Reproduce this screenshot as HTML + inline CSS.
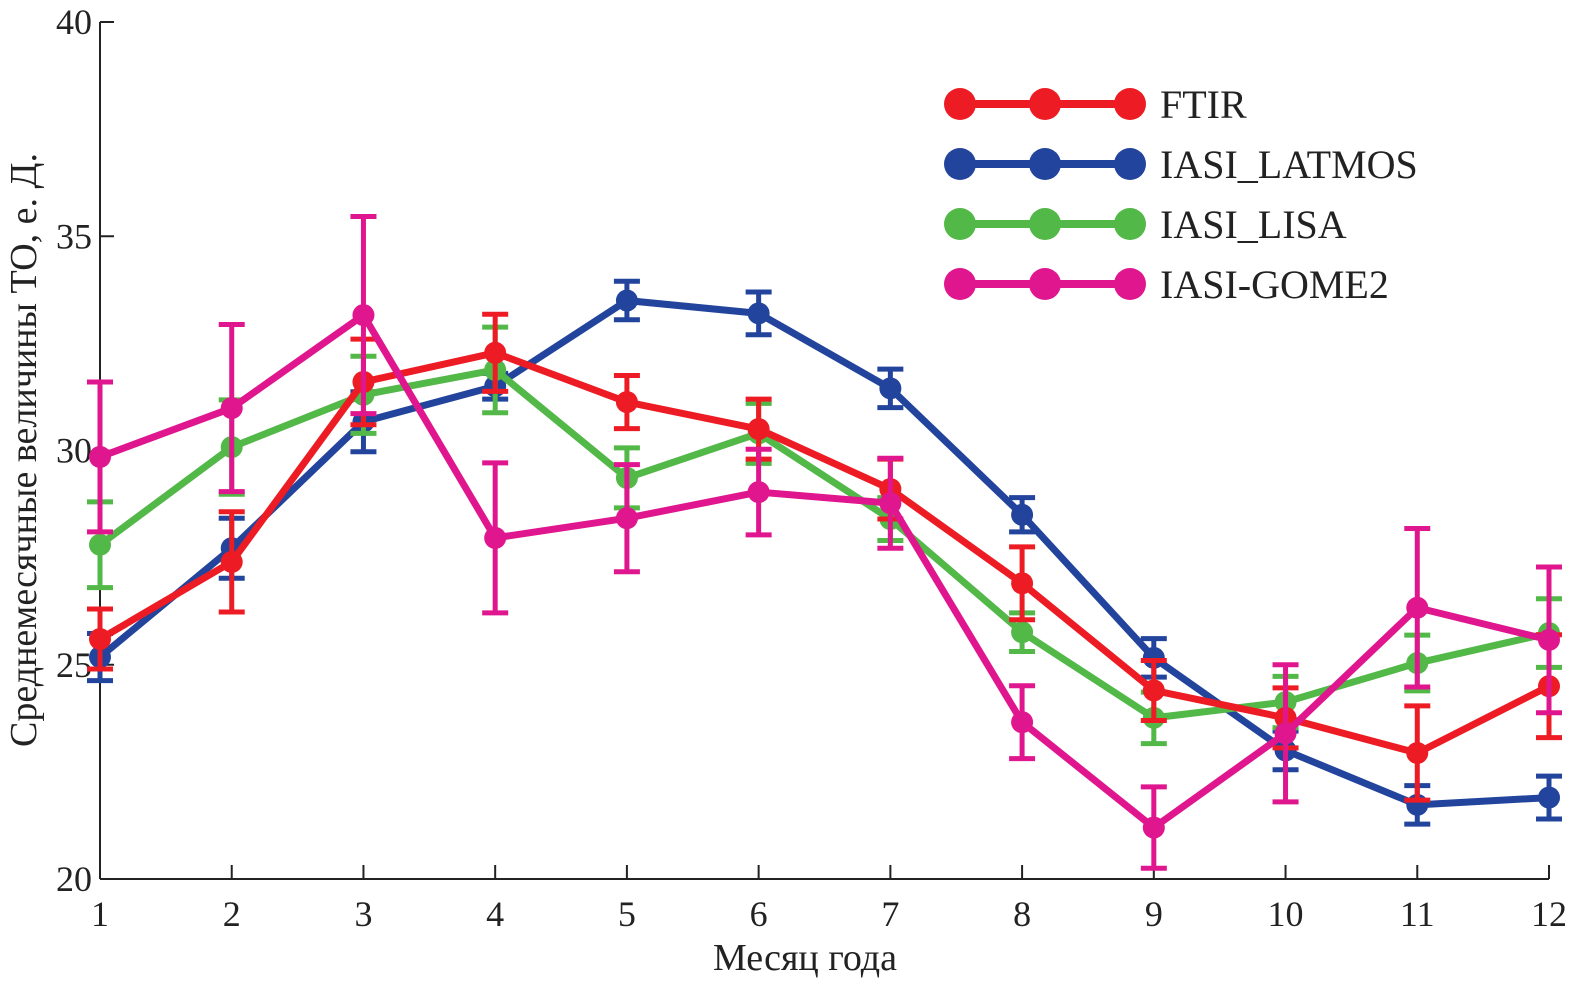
<!DOCTYPE html>
<html><head><meta charset="utf-8"><style>
body{margin:0;background:#fff}
svg text{font-family:"Liberation Serif",serif;fill:#222}
</style></head><body>
<svg id="chart" width="1592" height="997" xmlns="http://www.w3.org/2000/svg">
<g id="axes"></g>
<g id="series"></g>
<g id="legend"></g>
<text x="805" y="970" font-size="38" text-anchor="middle">Месяц года</text>
<text transform="translate(36,450) rotate(-90)" font-size="38" text-anchor="middle">Среднемесячные величины ТО, е. Д.</text>
</svg>
<script>
const months=[1,2,3,4,5,6,7,8,9,10,11,12];
const yTicks=[20,25,30,35,40];
const seriesNames=["IASI_LATMOS","IASI_LISA","FTIR","IASI-GOME2"];
const seriesColors=["#23449c","#52b848","#ed1c24","#e0168f"];
const latmos=[25.18,27.72,30.67,31.5,33.5,33.2,31.45,28.5,25.16,23.0,21.73,21.9];
const latmosErr=[.55,.7,.7,.3,.45,.5,.45,.4,.45,.45,.45,.5];
const lisa=[27.8,30.08,31.3,31.88,29.36,30.4,28.4,25.76,23.76,24.13,25.04,25.74];
const lisaErr=[1.0,1.1,.9,1.0,.7,.7,.5,.45,.6,.6,.65,.8];
const ftir=[25.6,27.4,31.6,32.28,31.13,30.5,29.1,26.9,24.4,23.76,22.94,24.5];
const ftirErr=[.7,1.17,1.0,.9,.62,.7,.7,.85,.7,.7,1.1,1.2];
const gome=[29.85,30.99,33.16,27.96,28.42,29.03,28.77,23.66,21.2,23.4,26.33,25.58];
const gomeErr=[1.75,1.95,2.3,1.75,1.25,1.0,1.05,.85,.95,1.6,1.85,1.7];
const legendOrder=["FTIR","IASI_LATMOS","IASI_LISA","IASI-GOME2"];
const legendColors=["#ed1c24","#23449c","#52b848","#e0168f"];

const NS="http://www.w3.org/2000/svg";
const X0=100,X1=1549,Y0=879,Y1=22;
const xs=m=>X0+(m-1)*(X1-X0)/11;
const ys=v=>Y0-(v-20)*(Y0-Y1)/20;
function mk(tag,attrs,parent){const e=document.createElementNS(NS,tag);for(const k in attrs)e.setAttribute(k,attrs[k]);parent.appendChild(e);return e;}
const axes=document.getElementById('axes');
let a=mk('line',{x1:X0,y1:Y1,x2:X0,y2:Y0,stroke:'#222','stroke-width':2},axes);


a=mk('line',{x1:X0,y1:Y0,x2:X1,y2:Y0,stroke:'#222','stroke-width':2},axes);


yTicks.forEach(t=>{
 const l=mk('line',{x1:X0,y1:ys(t),x2:X0+14,y2:ys(t),stroke:'#222','stroke-width':2},axes);
 
 
 const tx=mk('text',{x:X0-8,y:ys(t)+12,'font-size':36,'text-anchor':'end'},axes);
 tx.textContent=t;
 
 
});
months.forEach(m=>{
 const l=mk('line',{x1:xs(m),y1:Y0,x2:xs(m),y2:Y0-14,stroke:'#222','stroke-width':2},axes);
 
 
 const tx=mk('text',{x:xs(m),y:Y0+47,'font-size':36,'text-anchor':'middle'},axes);
 tx.textContent=m;
 
 
});
const data=[latmos,lisa,ftir,gome],errs=[latmosErr,lisaErr,ftirErr,gomeErr];
const sg=document.getElementById('series');
data.forEach((vals,i)=>{
 const c=seriesColors[i];
 const g=mk('g',{},sg);
 
 
 const p=mk('polyline',{points:vals.map((v,j)=>xs(months[j])+','+ys(v)).join(' '),fill:'none',stroke:c,'stroke-width':7,'stroke-linejoin':'round'},g);
 
 
 vals.forEach((v,j)=>{
  const x=xs(months[j]),lo=ys(v-errs[i][j]),hi=ys(v+errs[i][j]);
  const eb=mk('path',{d:`M${x},${lo}V${hi}M${x-13},${lo}H${x+13}M${x-13},${hi}H${x+13}`,stroke:c,'stroke-width':5,fill:'none'},g);
  
  
  const pt=mk('circle',{cx:x,cy:ys(v),r:11,fill:c},g);
  
  
 });
});
const lg=document.getElementById('legend');
legendOrder.forEach((n,i)=>{
 const y=104+i*60,c=legendColors[i];
 const g=mk('g',{},lg);
 
 
 mk('line',{x1:960,y1:y,x2:1130,y2:y,stroke:c,'stroke-width':8},g);
 [960,1045,1130].forEach(cx=>mk('circle',{cx:cx,cy:y,r:16,fill:c},g));
 const t=mk('text',{x:1160,y:y+14,'font-size':40},g);
 t.textContent=n;
});
</script>
</body></html>
